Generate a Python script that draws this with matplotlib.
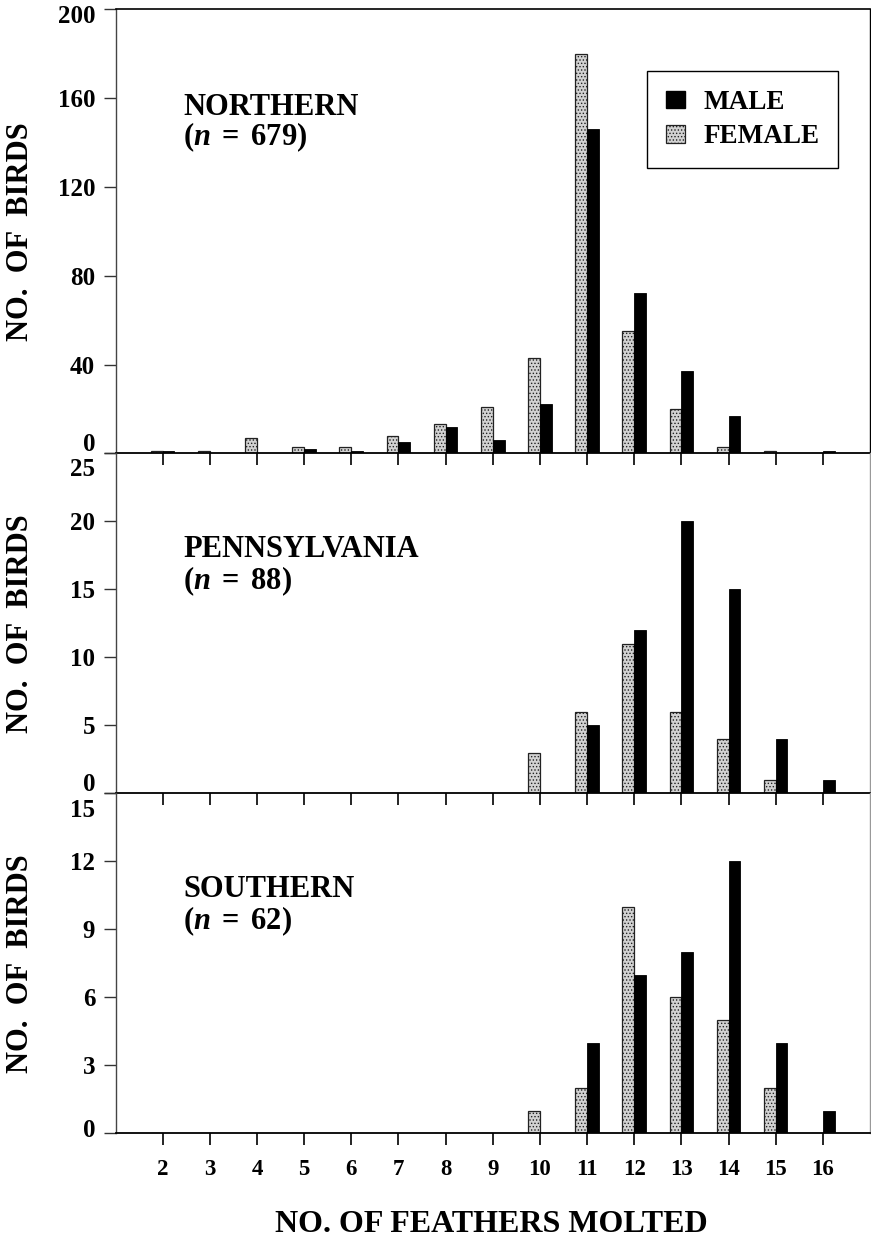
import matplotlib
matplotlib.use("Agg")
import matplotlib.pyplot as plt
import matplotlib.transforms as mtransforms
from matplotlib.patches import Patch
import numpy as np

plt.rcParams['font.family'] = ['Liberation Serif', 'DejaVu Serif']
plt.rcParams['font.weight'] = 'bold'
plt.rcParams['mathtext.fontset'] = 'custom'
plt.rcParams['mathtext.rm'] = 'Liberation Serif:bold'
plt.rcParams['mathtext.it'] = 'Liberation Serif:italic:bold'
plt.rcParams['hatch.linewidth'] = 0.6

# ---------------- data ----------------
feathers = [2, 3, 4, 5, 6, 7, 8, 9, 10, 11, 12, 13, 14, 15, 16]

north_female = [1, 1, 7, 3, 3, 8, 13, 21, 43, 180, 55, 20, 3, 1, 0]
north_male   = [1, 0, 0, 2, 1, 5, 12, 6, 22, 146, 72, 37, 17, 0, 1]

penn_female  = [0, 0, 0, 0, 0, 0, 0, 0, 3, 6, 11, 6, 4, 1, 0]
penn_male    = [0, 0, 0, 0, 0, 0, 0, 0, 0, 5, 12, 20, 15, 4, 1]

south_female = [0, 0, 0, 0, 0, 0, 0, 0, 1, 2, 10, 6, 5, 2, 0]
south_male   = [0, 0, 0, 0, 0, 0, 0, 0, 0, 4, 7, 8, 12, 4, 1]

panel_names = ["NORTHERN", "PENNSYLVANIA", "SOUTHERN"]
panel_n = [679, 88, 62]
panel_yticks = [[0, 40, 80, 120, 160, 200], [0, 5, 10, 15, 20, 25], [0, 3, 6, 9, 12, 15]]
legend_labels = ["MALE", "FEMALE"]
xlabel = "NO. OF FEATHERS MOLTED"
ylabel = "NO.  OF  BIRDS"

# ---------------- figure ----------------
W, H = 871, 1239
fig = plt.figure(figsize=(W / 100, H / 100), dpi=100)

left = 115.5 / W
width = (870 - 115.5) / W
panels_px = [(9.3, 453.3), (453.3, 793.3), (793.3, 1133.3)]

female_color = '#d2d2d2'
bar_w = 0.25
xf = np.array(feathers)

datasets = [(north_female, north_male), (penn_female, penn_male), (south_female, south_male)]
title_y = [(0.762, 0.694), (0.694, 0.601), (0.696, 0.601)]
# label shifts in px (positive = up) for top and bottom tick labels
shift_top = [-5, -14, -15]
shift_bottom = [11.6, 11.6, 5]

axes = []
for i, ((top_px, bot_px), (fem, mal)) in enumerate(zip(panels_px, datasets)):
    ax = fig.add_axes([left, 1 - bot_px / H, width, (bot_px - top_px) / H])
    axes.append(ax)
    ax.bar(xf - bar_w / 2, fem, width=bar_w, color=female_color, edgecolor='#222222',
           linewidth=0.9, hatch='.....', zorder=2)
    ax.bar(xf + bar_w / 2, mal, width=bar_w, color='black', edgecolor='black',
           linewidth=0.6, zorder=2)
    yt = panel_yticks[i]
    ax.set_ylim(0, yt[-1])
    ax.set_xlim(1, 17)
    ax.set_yticks(yt, labels=[str(v) for v in yt], fontsize=18, fontweight='bold')
    if i == 2:
        ax.set_xticks(feathers, labels=[str(v) for v in feathers], fontsize=16.5,
                      fontweight='bold')
    else:
        ax.set_xticks(feathers, labels=[])
    ax.tick_params(axis='y', direction='out', length=8.6, width=1.0, pad=6,
                   color='#333333')
    ax.tick_params(axis='x', direction='out', length=8.8, width=1.2, pad=10,
                   color='black')
    # shift end tick labels
    ylabs = ax.get_yticklabels()
    ylabs[-1].set_transform(ylabs[-1].get_transform() +
                            mtransforms.ScaledTranslation(0, shift_top[i] / 100, fig.dpi_scale_trans))
    ylabs[0].set_transform(ylabs[0].get_transform() +
                           mtransforms.ScaledTranslation(0, shift_bottom[i] / 100, fig.dpi_scale_trans))

    ax.spines['left'].set_color('#444444')
    ax.spines['left'].set_linewidth(1.0)
    ax.spines['bottom'].set_color('black')
    ax.spines['bottom'].set_linewidth(1.3)
    ax.spines['top'].set_visible(i == 0)
    ax.spines['top'].set_linewidth(1.2)
    ax.spines['right'].set_color('black' if i == 0 else '#999999')
    ax.spines['right'].set_linewidth(1.0)
    ax.patch.set_alpha(0)

    ty1, ty2 = title_y[i]
    ax.text(0.0895, ty1, panel_names[i], transform=ax.transAxes, fontsize=22,
            fontweight='bold', va='baseline', ha='left')
    ax.text(0.0895, ty2, r"($\mathit{n}\,$ = $\,$%d)" % panel_n[i], transform=ax.transAxes,
            fontsize=22, fontweight='bold', va='baseline', ha='left')

    cy = 1 - (top_px + bot_px) / 2 / H
    fig.text(21 / W, cy, ylabel, rotation=90, ha='center', va='center',
             fontsize=22, fontweight='bold')

# legend
handles = [Patch(facecolor='black', edgecolor='black'),
           Patch(facecolor=female_color, edgecolor='#222222', hatch='.....', linewidth=0.9)]
leg = axes[0].legend(handles, legend_labels, loc='upper left',
                     bbox_to_anchor=(647 / W, 1 - 71 / H), bbox_transform=fig.transFigure,
                     borderaxespad=0, frameon=True, fancybox=False, shadow=False,
                     edgecolor='black', framealpha=1,
                     handlelength=0.7, handleheight=0.63, handletextpad=0.67,
                     borderpad=0.7, labelspacing=0.35,
                     prop={'weight': 'bold', 'size': 19.5})
leg.get_frame().set_linewidth(1.0)

fig.text(491 / W, 1 - 1225 / H, xlabel, ha='center', va='center', fontsize=23,
         fontweight='bold')

fig.savefig('out.png', dpi=100)
